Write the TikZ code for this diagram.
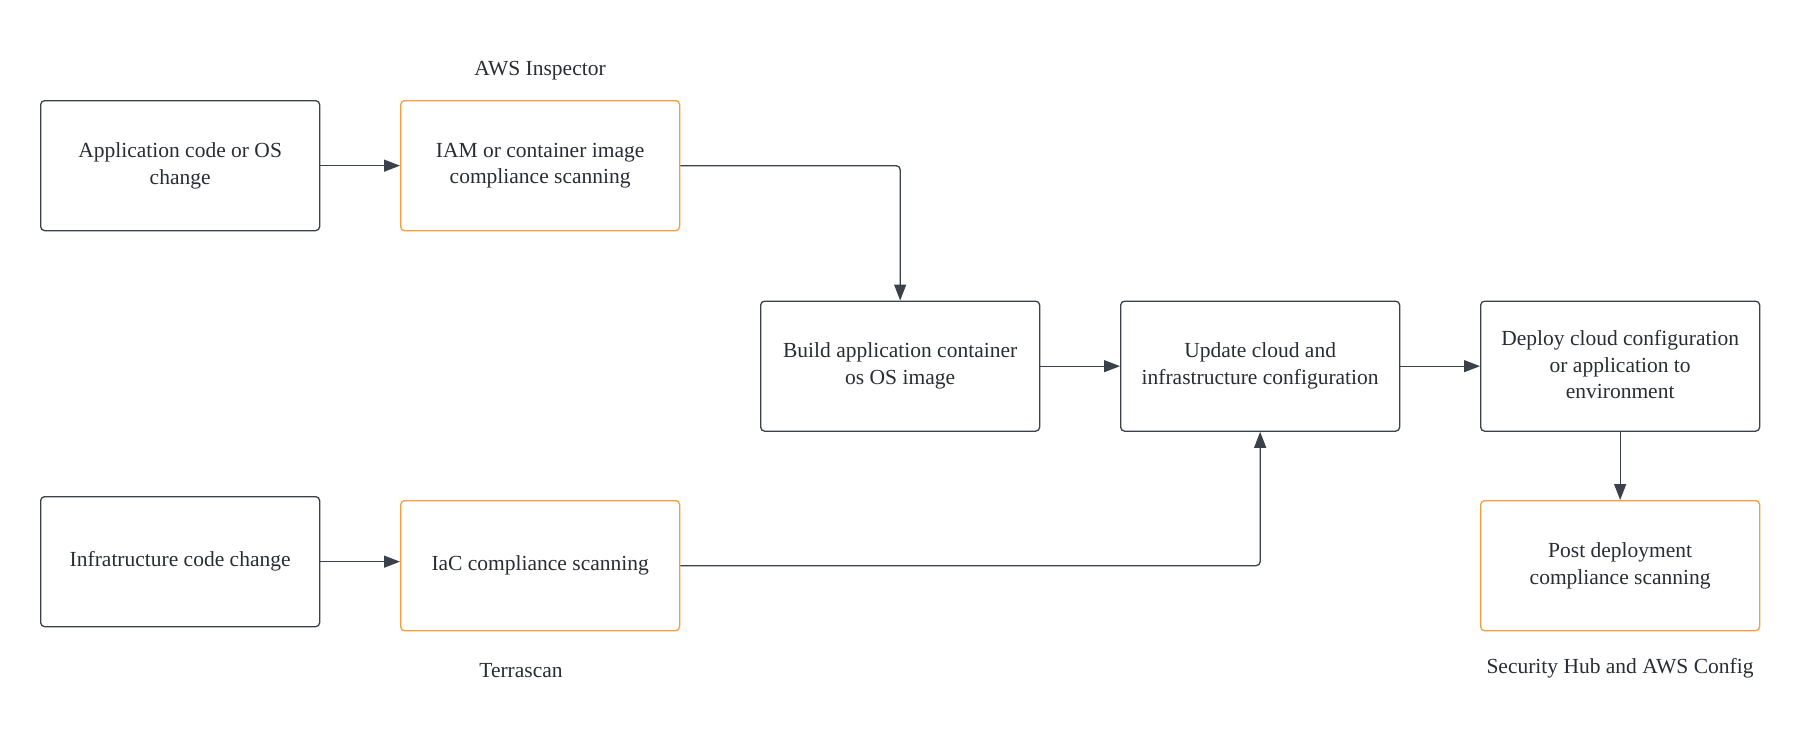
\documentclass[tikz,border=0pt]{standalone}
\usepackage{fontspec}
\setmainfont{Liberation Serif}
\usetikzlibrary{arrows.meta}
\definecolor{edge}{HTML}{3A414A}
\definecolor{orng}{HTML}{FA9C3C}
\definecolor{txt}{HTML}{282C33}
\begin{document}
\begin{tikzpicture}[x=1pt,y=-1pt,
  box/.style={draw=edge,line width=1.3pt,rounded corners=4pt,minimum width=279pt,minimum height=130pt,
    inner sep=0pt,align=center,text=txt,font=\fontsize{21.5}{26.7}\selectfont,anchor=north west},
  obox/.style={box,draw=orng},
  lbl/.style={text=txt,font=\fontsize{21.5}{26.7}\selectfont},
  conn/.style={draw=edge,line width=1.3pt,rounded corners=4pt,-{Triangle[length=16pt,width=12pt]}}]
\useasboundingbox (0,0) rectangle (1820,740);
\node[box]  (app)    at (40,100)  {Application code or OS\\change};
\node[obox] (iam)    at (400,100) {IAM or container image\\compliance scanning};
\node[box]  (build)  at (760,300.5) {Build application container\\os OS image};
\node[box]  (update) at (1120,300.5) {Update cloud and\\infrastructure configuration};
\node[box,text depth=3pt]  (deploy) at (1480,300.5) {Deploy cloud configuration\\or application to\\environment};
\node[obox] (post)   at (1480,500) {Post deployment\\compliance scanning};
\node[box]  (infra)  at (40,496)  {Infratructure code change};
\node[obox] (iac)    at (400,500) {IaC compliance scanning};
\node[lbl] (l1) at (540,70.5) {AWS Inspector};
\node[lbl] (l2) at (521,670.5) {Terrascan};
\node[lbl] (l3) at (1620,668.5) {Security Hub and AWS Config};
\draw[conn] (app.east) -- (iam.west);
\draw[conn] (iam.east) -| (build.north);
\draw[conn] (build.east) -- (update.west);
\draw[conn] (update.east) -- (deploy.west);
\draw[conn] (deploy.south) -- (post.north);
\draw[conn] (infra.east) -- (infra.east -| iac.west);
\draw[conn] (iac.east) -| (update.south);
\end{tikzpicture}
\end{document}
